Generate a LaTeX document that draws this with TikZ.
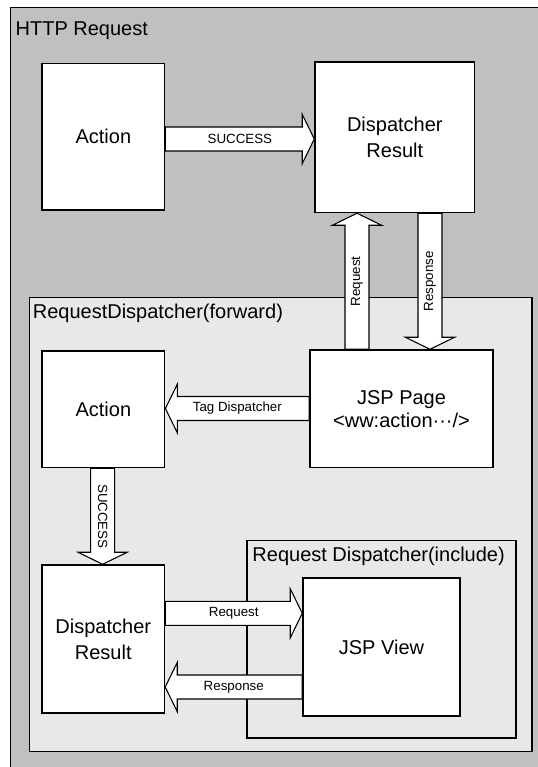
\documentclass[tikz,border=0pt]{standalone}
\usepackage{fontspec}
\setmainfont{Liberation Sans}
\usetikzlibrary{calc,fit}

\definecolor{outerfill}{RGB}{192,192,192}
\definecolor{innerfill}{RGB}{232,232,232}

\tikzset{
  box/.style={draw=black, fill=white, line width=1.1pt, inner sep=0pt,
    align=center, font=\fontsize{15}{19.5}\selectfont},
  size/.style 2 args={minimum width=#1*0.75pt, minimum height=#2*0.75pt},
  frame/.style={draw=black, line width=1.1pt, inner sep=0pt},
  framelabel/.style={anchor=base west, inner sep=0pt, font=\fontsize{15}{18}\selectfont},
  fatarrow/.style={draw=black, fill=white, line width=0.8pt, line join=miter},
  arrowlabel/.style={font=\fontsize{10}{12}\selectfont, inner sep=0pt},
}

% block arrow from #1 to #2, label #3 rotated by #4, label node named #5
\newcommand\fatarrow[5]{%
  \coordinate (hb) at ($(#2)!9pt!(#1)$);
  \draw[fatarrow]
    ($(#1)!9pt!90:(#2)$) -- ($(hb)!9pt!90:(#2)$) -- ($(hb)!18.4pt!90:(#2)$)
    -- (#2) -- ($(hb)!18.4pt!-90:(#2)$) -- ($(hb)!9pt!-90:(#2)$)
    -- ($(#1)!9pt!-90:(#2)$) -- cycle;
  \node[arrowlabel, rotate=#4] (#5) at ($(#1)!0.5!(#2)$) {#3};
}

\begin{document}
\begin{tikzpicture}[x=0.75pt, y=-0.75pt]
  \clip (0,0) rectangle (538,767);

  % nested frames
  \node[frame, fill=outerfill, fit={(10.5,7.5) (570,800)}] (http) {};
  \node[framelabel] (httpT) at (15.4,36) {HTTP Request};

  \node[frame, fill=innerfill, fit={(29.3,297.6) (532,751.5)}] (fwd) {};
  \node[framelabel] (fwdT) at (32.6,318.4) {RequestDispatcher(forward)};

  \node[frame, fill=innerfill, fit={(247,540.5) (516,738)}] (inc) {};
  \node[framelabel] (incT) at (252.2,561) {Request Dispatcher(include)};

  % components
  \node[box, size={122.7}{146.5}] (act1) at (103.35,136.75) {Action};
  \node[box, size={159.6}{150.5}] (dr1) at (394.8,137.25) {Dispatcher\\Result};
  \node[box, size={122.7}{116.7}] (act2) at (103.35,409.35) {Action};
  \node[box, size={183}{117.7}, font=\fontsize{15}{17.5}\selectfont] (jsp)
    at (401.5,408.85) {JSP Page\\<ww:action···/>};
  \node[box, size={122.5}{148}] (dr2) at (103.25,639) {Dispatcher\\Result};
  \node[box, size={157}{138}] (view) at (381.5,647) {JSP View};

  % block arrows
  \coordinate (s1a) at (act1.east |- 0,139);
  \coordinate (s1b) at (dr1.west |- 0,139);
  \fatarrow{s1a}{s1b}{SUCCESS}{0}{lsucc1}

  \coordinate (rqa) at (jsp.north -| 357,0);
  \coordinate (rqb) at (dr1.south -| 357,0);
  \fatarrow{rqa}{rqb}{Request}{90}{lreq1}

  \coordinate (rsa) at (dr1.south -| 430,0);
  \coordinate (rsb) at (jsp.north -| 430,0);
  \fatarrow{rsa}{rsb}{Response}{90}{lresp1}

  \coordinate (tga) at (jsp.west |- 0,408.5);
  \coordinate (tgb) at (act2.east |- 0,408.5);
  \fatarrow{tga}{tgb}{Tag Dispatcher}{0}{ltag}

  \coordinate (s2a) at (act2.south -| 102.6,0);
  \coordinate (s2b) at (dr2.north -| 102.6,0);
  \fatarrow{s2a}{s2b}{SUCCESS}{-90}{lsucc2}

  \coordinate (rq2a) at (dr2.east |- 0,613.3);
  \coordinate (rq2b) at (view.west |- 0,613.3);
  \fatarrow{rq2a}{rq2b}{Request}{0}{lreq2}

  \coordinate (rs2a) at (view.west |- 0,687);
  \coordinate (rs2b) at (dr2.east |- 0,687);
  \fatarrow{rs2a}{rs2b}{Response}{0}{lresp2}
\end{tikzpicture}
\end{document}
